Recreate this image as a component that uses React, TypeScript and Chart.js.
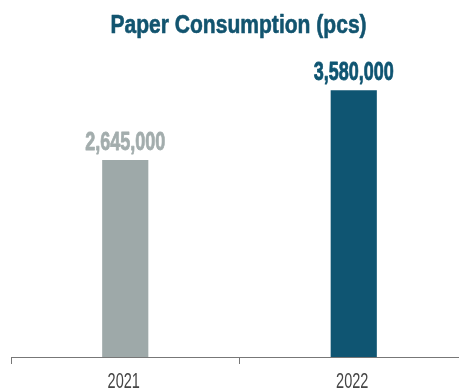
import React, { useEffect, useRef } from "react";
import { Chart, registerables } from "chart.js";

Chart.register(...registerables);

const categories = ["2021", "2022"];
const values = [2645000, 3580000];
const barColors = ["#9ea9a9", "#0f5572"];
const labelColors = ["#a3adad", "#0f5572"];
const titleText = "Paper Consumption (pcs)";

const FONT = "'Liberation Sans', Arial, sans-serif";

function drawNarrow(ctx: CanvasRenderingContext2D, text: string, x: number, y: number, font: string, squeeze: number, color: string, stroke = 0) {
  ctx.save();
  ctx.font = font;
  ctx.fillStyle = color;
  ctx.strokeStyle = color;
  ctx.textAlign = "center";
  ctx.textBaseline = "alphabetic";
  ctx.translate(x, y);
  ctx.scale(squeeze, 1);
  ctx.fillText(text, 0, 0);
  if (stroke > 0) {
    ctx.lineWidth = stroke;
    ctx.lineJoin = "round";
    ctx.strokeText(text, 0, 0);
  }
  ctx.restore();
}

const textPlugin = {
  id: "narrowText",
  afterDraw(chart: any) {
    const ctx = chart.ctx as CanvasRenderingContext2D;
    const area = chart.chartArea;
    // title
    drawNarrow(ctx, titleText, (area.left + area.right) / 2 - 1, 33, `bold 26px ${FONT}`, 0.81, "#12546f", 0.6);
    // value labels
    const meta = chart.getDatasetMeta(0);
    meta.data.forEach((bar: any, i: number) => {
      drawNarrow(ctx, values[i].toLocaleString("en-US"), bar.x, bar.y - 10, `bold 25px ${FONT}`, 0.72, labelColors[i], 0.8);
    });
    // category tick labels
    const xs = chart.scales.x;
    categories.forEach((c, i) => {
      drawNarrow(ctx, c, xs.getPixelForTick(i) - 1.5, 388, `22px ${FONT}`, 0.66, "#454545");
    });
  },
};

export default function App() {
  const ref = useRef<HTMLCanvasElement>(null);
  useEffect(() => {
    const chart = new Chart(ref.current!, {
      type: "bar",
      data: {
        labels: categories,
        datasets: [
          {
            data: values,
            backgroundColor: barColors,
            categoryPercentage: 1,
            barPercentage: 0.202,
          },
        ],
      },
      options: {
        animation: false,
        responsive: false,
        layout: { padding: { left: 11, right: 2, top: 59, bottom: 27 } },
        plugins: {
          legend: { display: false },
          tooltip: { enabled: false },
          title: { display: false },
        },
        scales: {
          x: {
            grid: { drawOnChartArea: false, tickLength: 7, color: "#777" },
            border: { color: "#777", width: 1 },
            ticks: { display: false },
          },
          y: {
            display: false,
            min: 0,
            max: 4000000,
          },
        },
      },
      plugins: [textPlugin],
    });
    return () => chart.destroy();
  }, []);
  return (
    <div style={{ position: "fixed", left: 0, top: 0, width: 470, height: 391, background: "#fff" }}>
      <canvas ref={ref} width={470} height={391} style={{ width: 470, height: 391 }} />
    </div>
  );
}
